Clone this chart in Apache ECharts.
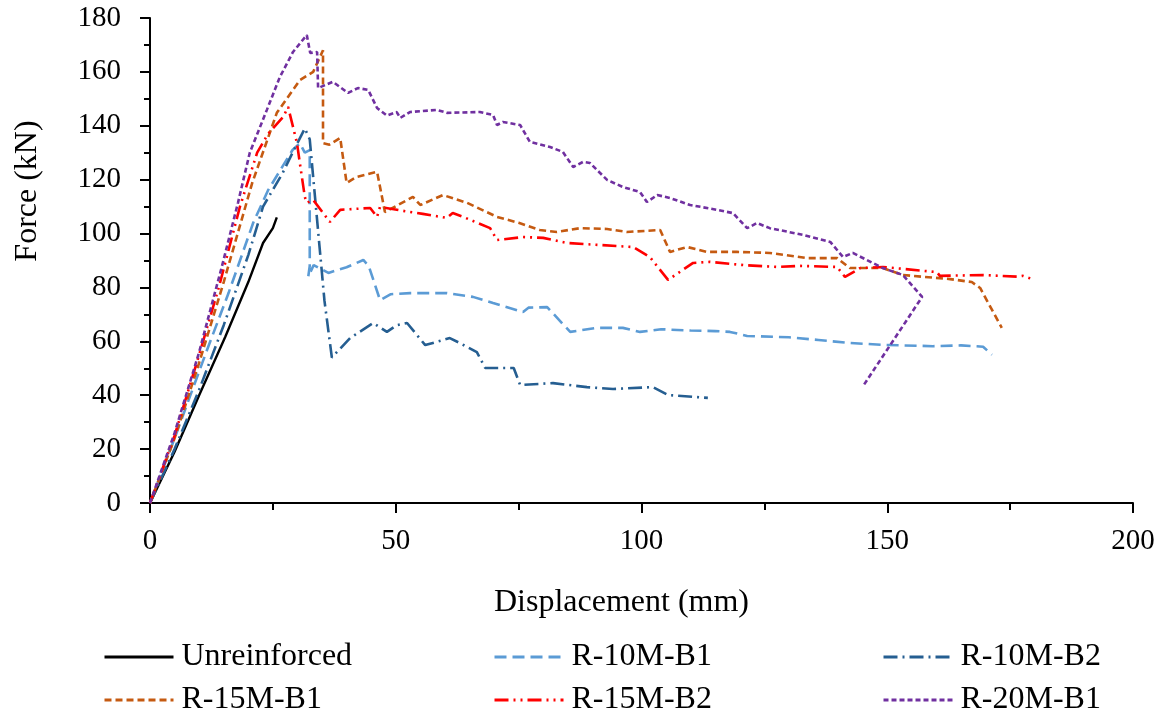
<!DOCTYPE html>
<html>
<head>
<meta charset="utf-8">
<script src="https://cdn.jsdelivr.net/npm/echarts@6/dist/echarts.min.js"></script>
<style>html,body{margin:0;padding:0;background:#fff}#c{width:1167px;height:721px}</style>
</head>
<body>
<div id="c"></div>
<script>
const seriesNames = ['Unreinforced','R-10M-B1','R-10M-B2','R-15M-B1','R-15M-B2','R-20M-B1'];

const unreinforcedX = [0,5,10,15.3,20,23,25,25.8];
const unreinforcedY = [0,19,40,61.6,82,96.5,102,106];

const r10mB1X = [0,5,11.6,16,21,24,27,29,30.5,31.5,32.5,32.5,32.2,33.3,36.3,40,43.4,44.5,46.8,49,52.9,60.4,65.7,69.8,73,75.9,77,80.8,85.5,90.9,96.2,99.7,104,110,115,118,121.5,130,136,142.4,149,159.3,165,169.5,171.3];
const r10mB1Y = [0,24,56.8,78,104,116,125,131,133.5,130,131,88,84,88.3,85.4,87.5,90.2,88,75.3,77.5,77.9,77.9,76.5,74.2,72.5,70.9,72.5,72.7,63.5,65,65,63.5,64.5,64,63.8,63.5,62,61.5,60.5,59.4,58.7,58.2,58.5,58,55];

const r10mB2X = [0,5,10,15,20,23,27,29,31.5,32.5,33.5,34.5,35.5,37,40.7,45.4,48.2,50.2,52.3,56,61,63,66.5,68.2,74,75.3,82,88.9,94.2,102.3,105.4,113.5];
const r10mB2Y = [0,20,42,66,92,110,122.5,130,139,135,115,95,75,54,61.2,66.8,63.5,66,66.8,58.6,61.2,59.4,56,50.1,50.1,43.8,44.5,43,42.3,43,40.1,39];

const r15mB1X = [0,5,10,15,20.8,25.8,30.5,33.2,35.2,35.2,36.5,38.7,40,42,46.2,47.8,53.5,55,59.6,64.5,70.6,75,79.3,82.8,87.5,93,97,103.8,105.8,109.3,113.3,119.4,126.1,133.7,139.8,142.4,149.1,153.2,162.8,167.2,168.9,173.3];
const r15mB1Y = [0,24,52,82,118.8,144.8,157,160,168,133.6,133,135.5,118.8,121,122.9,108,113.6,110.6,114.3,111.4,106.2,104,101.3,100.6,102,101.7,100.6,101.3,93.2,95,93.2,93.2,92.8,90.9,90.9,87.2,87.2,84.6,83.1,82,79.8,65];

const r15mB2X = [0,5,10,14,18.3,21.8,24,27.1,28.1,29.9,30.5,31.5,31.9,33.2,36.6,38.7,44.8,46.2,46.8,52.9,55.5,60.4,61.6,63.7,69.2,70.6,75.9,80,84.8,98.3,101.7,105.4,110.5,113.9,120.7,127.6,132.2,139.8,141.4,144.5,149.1,160.1,160.7,169.5,176.4,177.6,180];
const r15mB2Y = [0,25,55,80,110,130,137,143.3,147,133.6,126,113.6,111.4,112.5,104.3,108.8,109.5,106.2,109.9,108,107.3,105.8,107.6,106.2,102,97.6,98.7,98.4,96.5,95,91.3,82.8,89.1,89.5,88.3,87.6,88,87.6,83.9,87.2,87.6,85.7,84.3,84.6,84,84.3,82.8];

const r20mB1X = [0,5,10,14.6,17.9,20.3,23.8,26.4,29.1,31.9,32.6,34,34.2,37.2,40.3,42.3,44.4,46.2,48.2,50.2,50.9,52.9,58.4,60.4,67.1,69.8,70.6,71.8,75.3,77.3,81.4,84,86.1,88.1,89.5,93,96.2,99.7,101.1,103.2,105.8,109.9,115.4,118.6,121.5,123.5,126.1,132.9,138.4,141,143,149.1,153.2,157.1,145.3];
const r20mB1Y = [0,26,56,87.6,111.4,130,146,158,167.4,173.7,167,167.4,154,156.3,152.2,154,153.3,146.6,143.8,145.1,142.9,145.1,145.9,144.8,145.1,144,140.3,141.4,140.3,134,132.1,130.3,124.7,126.6,126.2,119.9,117.3,115.4,111.7,114.3,113.2,110.6,108.8,107.6,102,103.9,102,99.5,96.9,91.3,92.8,87.2,84.6,76.5,44];

const xTicks = [0,50,100,150,200];
const yTicks = [0,20,40,60,80,100,120,140,160,180];

const xs = [unreinforcedX,r10mB1X,r10mB2X,r15mB1X,r15mB2X,r20mB1X];
const ys = [unreinforcedY,r10mB1Y,r10mB2Y,r15mB1Y,r15mB2Y,r20mB1Y];
const colors = ['#000000','#5B9BD5','#255E91','#C55A11','#FF0000','#7030A0'];
const dashes = ['solid',[12,6],[14,5,2,5],[7,4],[14,5,2,5,2,5],[5,3]];

const FONT = '"Liberation Serif","Times New Roman",serif';

const series = seriesNames.map((n,i)=>({
  name:n, type:'line', showSymbol:false, symbol:'none', smooth:false,
  data: xs[i].map((x,k)=>[x, ys[i][k]]),
  lineStyle:{color:colors[i], width: i===0?2.4:2.6, type:dashes[i]},
  itemStyle:{color:colors[i]},
  z: 2+i
}));

const legPos = [[103,641],[493,641],[882,641],[103,684],[493,684],[882,684]];
const legend = seriesNames.map((n,i)=>({
  data:[n], left:legPos[i][0], top:legPos[i][1], padding:0,
  itemWidth:69, itemHeight:14,
  itemStyle:{opacity:0},
  lineStyle:{width:3},
  textStyle:{fontFamily:FONT, fontSize:32, color:'#000', padding:[0,0,0,3]}
}));

const chart = echarts.init(document.getElementById('c'), null, {renderer:'canvas'});
chart.setOption({
  animation:false,
  backgroundColor:'#fff',
  grid:{left:150, right:34, top:18, bottom:218, containLabel:false},
  legend: legend,
  xAxis:{
    type:'value', min:xTicks[0], max:xTicks[xTicks.length-1], interval:50,
    name:'Displacement (mm)', nameLocation:'middle', nameGap:84,
    nameTextStyle:{fontFamily:FONT, fontSize:32, color:'#000', padding:[0,40,0,0]},
    axisLine:{show:true, lineStyle:{color:'#000', width:2}},
    axisTick:{show:true, inside:false, length:10, lineStyle:{color:'#000', width:2}},
    minorTick:{show:true, splitNumber:2, length:7, lineStyle:{color:'#000', width:2}},
    splitLine:{show:false},
    axisLabel:{fontFamily:FONT, fontSize:29, color:'#000', margin:24}
  },
  yAxis:{
    type:'value', min:yTicks[0], max:yTicks[yTicks.length-1], interval:20,
    name:'Force (kN)', nameLocation:'middle', nameGap:106, nameRotate:90,
    nameTextStyle:{fontFamily:FONT, fontSize:32, color:'#000', padding:[0,0,0,139]},
    axisLine:{show:true, lineStyle:{color:'#000', width:2}},
    axisTick:{show:true, inside:false, length:10, lineStyle:{color:'#000', width:2}},
    minorTick:{show:true, splitNumber:2, length:6, lineStyle:{color:'#000', width:2}},
    splitLine:{show:false},
    axisLabel:{fontFamily:FONT, fontSize:29, color:'#000', margin:29}
  },
  series: series
});
</script>
</body>
</html>
